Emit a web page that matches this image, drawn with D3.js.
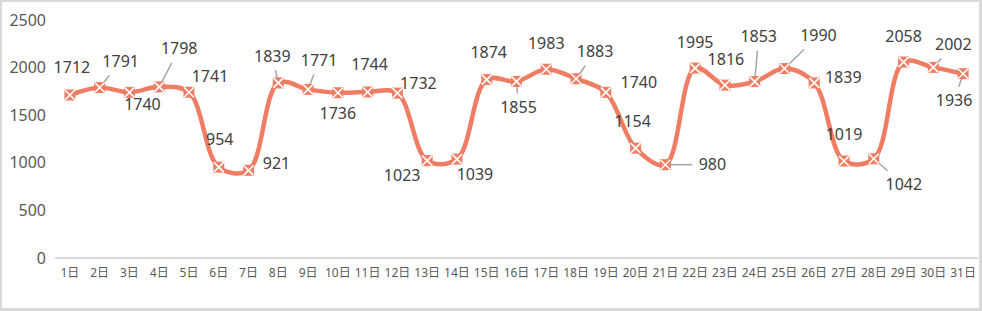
<!DOCTYPE html>
<html>
<head>
<meta charset="utf-8">
<script src="https://cdn.jsdelivr.net/npm/d3@7"></script>
<style>
  body { margin: 0; background: #fff; }
  svg { display: block; }
</style>
</head>
<body>
<div id="chart"></div>
<script>
var days = ["1日","2日","3日","4日","5日","6日","7日","8日","9日","10日","11日","12日","13日","14日","15日","16日",
            "17日","18日","19日","20日","21日","22日","23日","24日","25日","26日","27日","28日","29日","30日","31日"]
var values = [1712, 1791, 1740, 1798, 1741, 954, 921, 1839, 1771, 1736, 1744, 1732, 1023, 1039, 1874, 1855,
              1983, 1883, 1740, 1154, 980, 1995, 1816, 1853, 1990, 1839, 1019, 1042, 2058, 2002, 1936]
var yTicks = [0, 500, 1000, 1500, 2000, 2500]

// where each value label sits, relative to its point [dx, dy, leader line?]
var labelPos = [
  [2, -28, 0], [21, -26, 1], [13, 12, 0], [20, -38, 1], [21, -16, 0], [1, -28, 0], [28, -7, 0],
  [-6, -27, 1], [11, -29, 1], [0, 21, 0], [2, -28, 0], [21, -10, 0], [-25, 15, 0], [18, 15, 0],
  [2, -27, 0], [2, 26, 1], [0, -26, 0], [19, -27, 1], [33, -10, 0], [-3, -27, 0], [47, 0, 1],
  [0, -26, 0], [1, -26, 0], [4, -45, 1], [34, -33, 1], [29, -6, 0], [0, -27, 0], [30, 26, 1],
  [0, -26, 0], [20, -23, 1], [-9, 27, 1]
]

var width = 982,
    height = 311

var data = days.map(function(d, i) { return {day: d, value: values[i], pos: labelPos[i]} })

var svg = d3.select("#chart")
    .append("svg")
    .attr("width", width)
    .attr("height", height)

svg.append("rect")
    .attr("width", width)
    .attr("height", height)
    .attr("fill", "#d9d9d9")
svg.append("rect")
    .attr("x", 2)
    .attr("y", 2)
    .attr("width", 977)
    .attr("height", 306)
    .attr("fill", "#fff")

var x = d3.scaleBand().domain(days).range([55, 978])
var y = d3.scaleLinear().domain([0, 2500]).range([258, 20])

function cx(d) { return x(d.day) + x.bandwidth() / 2 }
function cy(d) { return y(d.value) }

var font = "'Noto Sans', 'Noto Sans CJK SC', sans-serif"

// y labels
svg.selectAll(".ytick")
    .data(yTicks)
    .enter().append("text")
    .attr("class", "ytick")
    .attr("x", 46)
    .attr("y", function(d) { return y(d) })
    .attr("dy", "0.35em")
    .attr("text-anchor", "end")
    .attr("font-family", font)
    .attr("font-size", 16)
    .attr("fill", "#595959")
    .text(function(d) { return d })

// x axis
svg.append("line")
    .attr("x1", 55)
    .attr("x2", 978)
    .attr("y1", y(0))
    .attr("y2", y(0))
    .attr("stroke", "#d9d9d9")
    .attr("stroke-width", 2)

svg.selectAll(".xtick")
    .data(days)
    .enter().append("text")
    .attr("class", "xtick")
    .attr("x", function(d) { return x(d) + x.bandwidth() / 2 })
    .attr("y", 273)
    .attr("dy", "0.35em")
    .attr("text-anchor", "middle")
    .attr("font-family", font)
    .attr("font-size", 12)
    .attr("fill", "#595959")
    .text(function(d) { return d })

var line = d3.line()
    .x(cx)
    .y(cy)
    .curve(d3.curveCatmullRom.alpha(0.5))

svg.append("path")
    .datum(data)
    .attr("d", line)
    .attr("fill", "none")
    .attr("stroke", "#ee7d63")
    .attr("stroke-width", 4.5)

// leader lines
svg.selectAll(".leader")
    .data(data.filter(function(d) { return d.pos[2] }))
    .enter().append("line")
    .attr("class", "leader")
    .attr("x1", cx)
    .attr("y1", cy)
    .attr("x2", function(d) {
        var dx = d.pos[0], dy = d.pos[1]
        if (Math.abs(dy) < 5) return cx(d) + dx - (dx > 0 ? 20 : -20)
        return cx(d) + dx * (Math.abs(dy) - 14) / Math.abs(dy)
    })
    .attr("y2", function(d) {
        var dy = d.pos[1]
        if (Math.abs(dy) < 5) return cy(d) + dy
        return cy(d) + dy - (dy > 0 ? 14 : -14)
    })
    .attr("stroke", "#a6a6a6")
    .attr("stroke-width", 1.5)

// markers
var markers = svg.selectAll(".marker")
    .data(data)
    .enter().append("g")
    .attr("class", "marker")
    .attr("transform", function(d) { return "translate(" + cx(d) + "," + cy(d) + ")" })

markers.append("rect")
    .attr("x", -5.5)
    .attr("y", -5.5)
    .attr("width", 11)
    .attr("height", 11)
    .attr("fill", "#ee7d63")
markers.append("path")
    .attr("d", "M-5,-5L5,5M5,-5L-5,5")
    .attr("stroke", "#fff")
    .attr("stroke-width", 1.6)

// value labels
svg.selectAll(".label")
    .data(data)
    .enter().append("text")
    .attr("class", "label")
    .attr("x", function(d) { return cx(d) + d.pos[0] })
    .attr("y", function(d) { return cy(d) + d.pos[1] })
    .attr("dy", "0.35em")
    .attr("text-anchor", "middle")
    .attr("font-family", font)
    .attr("font-size", 16)
    .attr("fill", "#404040")
    .text(function(d) { return d.value })
</script>
</body>
</html>
